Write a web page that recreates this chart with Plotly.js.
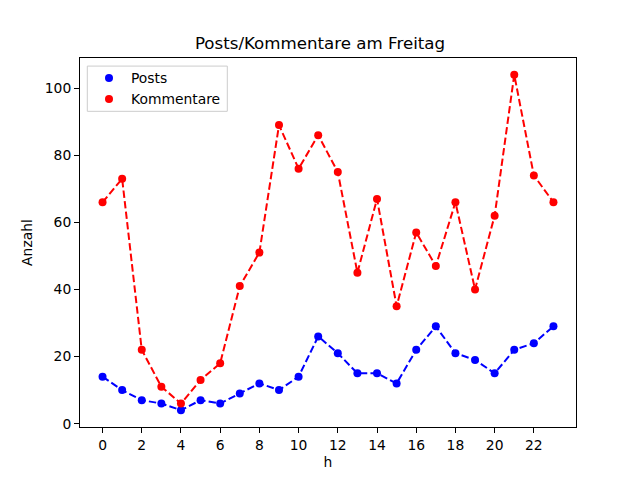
<!DOCTYPE html>
<html>
<head>
<meta charset="utf-8">
<script src="https://cdn.plot.ly/plotly-3.0.1.min.js"></script>
<style>html,body{margin:0;padding:0;background:#fff;}#chart{width:640px;height:480px;}</style>
</head>
<body>
<div id="chart"></div>
<script>
const hours = [0,1,2,3,4,5,6,7,8,9,10,11,12,13,14,15,16,17,18,19,20,21,22,23];
const posts = [14,10,7,6,4,7,6,9,12,10,14,26,21,15,15,12,22,29,21,19,15,22,24,29];
const kommentare = [66,73,22,11,6,13,18,41,51,89,76,86,75,45,67,35,57,47,66,40,62,104,74,66];
const xTicks = [0,2,4,6,8,10,12,14,16,18,20,22];
const yTicks = [0,20,40,60,80,100];

const font = "DejaVu Sans, sans-serif";
const dash = "7.4px,3.2px";
const W = 640, H = 480;
const mL = 80, mR = 64, mT = 57.6, mB = 52.8;
const pw = W - mL - mR, ph = H - mT - mB;
const px = v => (v - mL) / pw;          // pixel x -> paper
const py = v => 1 - (v - mT) / ph;      // pixel y -> paper

const traces = [
  {x: hours, y: posts, mode: "lines", line: {color: "blue", width: 2, dash: dash}, showlegend: false, hoverinfo: "skip"},
  {x: hours, y: kommentare, mode: "lines", line: {color: "red", width: 2, dash: dash}, showlegend: false, hoverinfo: "skip"},
  {x: hours, y: posts, mode: "markers", name: "Posts", marker: {color: "blue", size: 8}},
  {x: hours, y: kommentare, mode: "markers", name: "Kommentare", marker: {color: "red", size: 8}}
];

const axisCommon = {
  showline: true, linecolor: "black", linewidth: 1, mirror: true,
  ticks: "outside", ticklen: 5, tickwidth: 1, tickcolor: "black",
  showgrid: false, zeroline: false,
  tickfont: {family: font, size: 13.89, color: "black"}
};

const layout = {
  width: W, height: H,
  margin: {l: mL, r: mR, t: mT, b: mB, pad: 0},
  paper_bgcolor: "white", plot_bgcolor: "white",
  font: {family: font, color: "black"},
  title: {text: "Posts/Kommentare am Freitag", font: {family: font, size: 16.67, color: "black"}, x: 0.5, xanchor: "center", y: 1 - 43.5/H, yanchor: "middle"},
  xaxis: Object.assign({}, axisCommon, {
    range: [-1.15, 24.15], tickvals: xTicks, ticktext: xTicks.map(String),
    title: {text: "h", font: {family: font, size: 13.89, color: "black"}, standoff: 5}
  }),
  yaxis: Object.assign({}, axisCommon, {
    range: [-1, 109], tickvals: yTicks, ticktext: yTicks.map(String),
    title: {text: "Anzahl", font: {family: font, size: 13.89, color: "black"}, standoff: 8}
  }),
  shapes: [{
    type: "rect", xref: "paper", yref: "paper", layer: "above",
    x0: px(87.3), x1: px(227.3), y0: py(111), y1: py(65.7),
    line: {color: "#cccccc", width: 1}, fillcolor: "rgba(255,255,255,0.8)"
  }],
  legend: {
    x: px(87), y: py(62), xanchor: "left", yanchor: "top",
    bgcolor: "rgba(0,0,0,0)", borderwidth: 0,
    font: {family: font, size: 13.89, color: "black"},
    itemwidth: 34, tracegroupgap: 0
  },
  showlegend: true
};

Plotly.newPlot("chart", traces, layout, {displayModeBar: false, staticPlot: true});
</script>
</body>
</html>
